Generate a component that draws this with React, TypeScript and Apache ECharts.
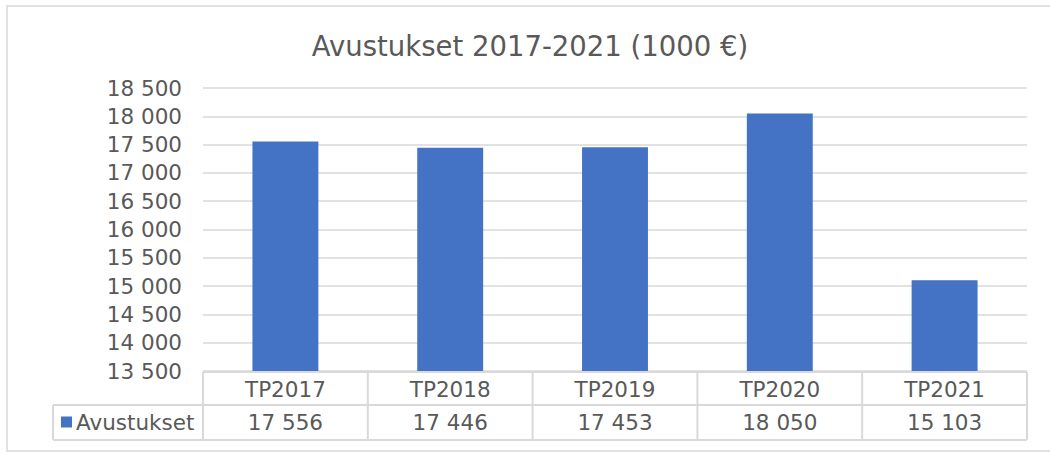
import React, { useEffect, useRef } from "react";
import * as echarts from "echarts";

const title = "Avustukset 2017-2021 (1000 €)";
const seriesName = "Avustukset";
const categories = ["TP2017", "TP2018", "TP2019", "TP2020", "TP2021"];
const values = [17556, 17446, 17453, 18050, 15103];
const yMin = 13500;
const yMax = 18500;
const yStep = 500;

const fmt = (v: number) => String(v).replace(/\B(?=(\d{3})+(?!\d))/g, " ");

const W = 1050;
const H = 453;
const gridLeft = 203;
const gridRight = 1027;
const gridTop = 88;
const gridBottom = 371;
const rowMid = 405;
const tableBottom = 440;
const legendLeft = 53;
const TEXT = "#595959";
const LINE = "#d9d9d9";
const FONT = "DejaVu Sans";

export default function App() {
  const ref = useRef<HTMLDivElement>(null);
  useEffect(() => {
    document.body.style.margin = "0";
    const chart = echarts.init(ref.current!, null, { renderer: "svg" });
    const colW = (gridRight - gridLeft) / categories.length;
    const lineStyle = { stroke: LINE, lineWidth: 2 };
    const graphics: any[] = [
      {
        type: "rect",
        shape: { x: 7, y: 6, width: 1060, height: 445 },
        style: { fill: "none", stroke: LINE, lineWidth: 1.5 },
        silent: true,
      },
      { type: "line", shape: { x1: gridLeft, y1: gridBottom + 1, x2: gridRight, y2: gridBottom + 1 }, style: lineStyle },
      { type: "line", shape: { x1: legendLeft, y1: rowMid, x2: gridRight, y2: rowMid }, style: lineStyle },
      { type: "line", shape: { x1: legendLeft, y1: tableBottom, x2: gridRight, y2: tableBottom }, style: lineStyle },
      { type: "line", shape: { x1: legendLeft, y1: rowMid, x2: legendLeft, y2: tableBottom }, style: lineStyle },
    ];
    for (let i = 0; i <= categories.length; i++) {
      const x = gridLeft + i * colW;
      graphics.push({ type: "line", shape: { x1: x, y1: gridBottom + 1, x2: x, y2: tableBottom }, style: lineStyle });
    }
    const txt = { color: TEXT, fontSize: 21.5, fontFamily: FONT };
    chart.setOption({
      animation: false,
      backgroundColor: "#ffffff",
      title: {
        text: title,
        left: 525,
        top: 27,
        textAlign: "center",
        textStyle: { color: TEXT, fontSize: 27.5, fontWeight: "normal", fontFamily: FONT },
      },
      legend: {
        data: [seriesName],
        left: 61,
        top: 411,
        icon: "rect",
        itemWidth: 11,
        itemHeight: 11,
        itemGap: 5,
        textStyle: { ...txt, padding: [0, 0, 0, -1] },
        padding: 0,
      },
      grid: { left: gridLeft, right: W - gridRight, top: gridTop, bottom: H - gridBottom },
      xAxis: [
        {
          type: "category",
          data: categories,
          position: "bottom",
          axisLine: { show: false },
          axisTick: { show: false },
          axisLabel: { ...txt, margin: 7 },
        },
        {
          type: "category",
          data: values.map(fmt),
          position: "bottom",
          offset: 33,
          axisLine: { show: false },
          axisTick: { show: false },
          axisLabel: { ...txt, margin: 7 },
        },
      ],
      yAxis: {
        type: "value",
        min: yMin,
        max: yMax,
        interval: yStep,
        axisLine: { show: false },
        axisTick: { show: false },
        axisLabel: { ...txt, margin: 21, formatter: (v: number) => fmt(v) },
        splitLine: { lineStyle: { color: LINE, width: 1.5 } },
      },
      series: [
        {
          name: seriesName,
          type: "bar",
          data: values,
          xAxisIndex: 0,
          barCategoryGap: "60%",
          itemStyle: { color: "#4472C4" },
        },
      ],
      graphic: graphics,
    });
    return () => chart.dispose();
  }, []);
  return <div ref={ref} style={{ width: W, height: H }} />;
}
